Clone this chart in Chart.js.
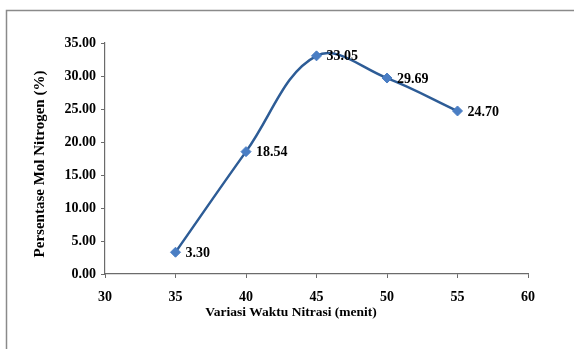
<!DOCTYPE html>
<html>
<head>
<meta charset="utf-8">
<script src="https://cdn.jsdelivr.net/npm/chart.js@4/dist/chart.umd.min.js"></script>
<style>
html,body{margin:0;padding:0;background:#fff;}
#wrap{width:574px;height:349px;position:relative;}
</style>
</head>
<body>
<div id="wrap"><canvas id="c" width="574" height="349"></canvas></div>
<script>
const xValues = [35, 40, 45, 50, 55];
const nitrogenPct = [3.30, 18.54, 33.05, 29.69, 24.70];
const xTitle = 'Variasi Waktu Nitrasi (menit)';
const yTitle = 'Persentase Mol Nitrogen (%)';

const FONT = '"Liberation Serif", "Times New Roman", serif';

const decor = {
  id: 'decor',
  beforeDraw(chart) {
    const ctx = chart.ctx;
    ctx.save();
    ctx.strokeStyle = '#8a8a8a';
    ctx.lineWidth = 1.5;
    ctx.beginPath();
    ctx.moveTo(574, 10.5);
    ctx.lineTo(6.5, 10.5);
    ctx.lineTo(6.5, 349);
    ctx.stroke();
    ctx.restore();
  },
  afterDraw(chart) {
    const ctx = chart.ctx;
    ctx.save();
    ctx.fillStyle = '#000';
    ctx.font = 'bold 14px ' + FONT;
    ctx.textBaseline = 'middle';
    ctx.textAlign = 'left';
    const meta = chart.getDatasetMeta(0);
    meta.data.forEach((pt, i) => {
      ctx.fillText(nitrogenPct[i].toFixed(2), pt.x + 10, pt.y + 1);
    });
    ctx.textAlign = 'center';
    ctx.font = 'bold 13.5px ' + FONT;
    ctx.fillText(xTitle, 291, 313);
    ctx.font = 'bold 15px ' + FONT;
    ctx.translate(40, 164);
    ctx.rotate(-Math.PI / 2);
    ctx.fillText(yTitle, 0, 0);
    ctx.restore();
  }
};

new Chart(document.getElementById('c'), {
  type: 'line',
  data: {
    datasets: [{
      data: xValues.map((x, i) => ({x: x, y: nitrogenPct[i]})),
      borderColor: '#2d5c96',
      borderWidth: 2.5,
      tension: 0.38,
      pointStyle: 'rectRot',
      pointRadius: 5,
      pointBackgroundColor: '#4a7ec4',
      pointBorderColor: '#4a7ec4',
      pointBorderWidth: 1,
      fill: false
    }]
  },
  plugins: [decor],
  options: {
    responsive: false,
    animation: false,
    devicePixelRatio: 1,
    layout: { padding: { left: 0, top: 43, right: 46, bottom: 0 } },
    plugins: { legend: { display: false }, tooltip: { enabled: false } },
    scales: {
      x: {
        type: 'linear', min: 30, max: 60,
        ticks: { stepSize: 5, color: '#000', font: { family: FONT, size: 14, weight: 'bold' }, padding: 11, maxRotation: 0 },
        grid: { drawOnChartArea: false, drawTicks: true, tickLength: 4, color: '#6b6b6b' },
        border: { display: true, color: '#6b6b6b', width: 1.2 },
        afterFit(s) { s.height = 75; }
      },
      y: {
        min: 0, max: 35,
        ticks: { stepSize: 5, color: '#000', font: { family: FONT, size: 14, weight: 'bold' }, padding: 5,
          callback: v => Number(v).toFixed(2) },
        grid: { drawOnChartArea: false, drawTicks: true, tickLength: 4, color: '#6b6b6b' },
        border: { display: true, color: '#6b6b6b', width: 1.2 },
        afterFit(s) { s.width = 105; }
      }
    }
  }
});
</script>
</body>
</html>
